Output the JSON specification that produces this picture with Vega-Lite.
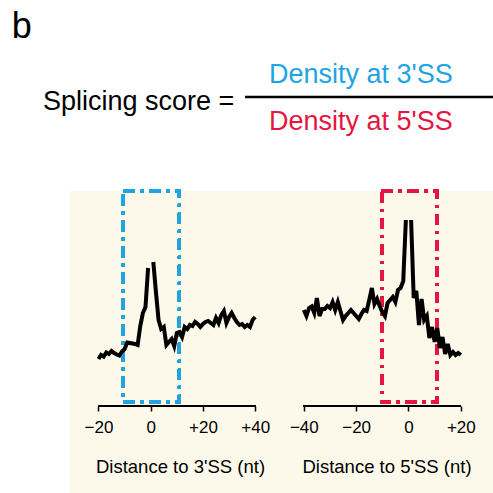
{
  "$schema": "https://vega.github.io/schema/vega-lite/v6.json",
  "padding": 0,
  "background": "white",
  "spacing": 0,
  "bounds": "flush",
  "config": {"view": {"stroke": null}, "font": "Liberation Sans"},
  "datasets": {
    "threeSS": [
      {"position": -20, "density": 1.34, "side": "upstream"},
      {"position": -19, "density": 1.38, "side": "upstream"},
      {"position": -18, "density": 1.365, "side": "upstream"},
      {"position": -17, "density": 1.405, "side": "upstream"},
      {"position": -16, "density": 1.39, "side": "upstream"},
      {"position": -15, "density": 1.42, "side": "upstream"},
      {"position": -14, "density": 1.40, "side": "upstream"},
      {"position": -13, "density": 1.385, "side": "upstream"},
      {"position": -12, "density": 1.375, "side": "upstream"},
      {"position": -11, "density": 1.415, "side": "upstream"},
      {"position": -10, "density": 1.44, "side": "upstream"},
      {"position": -9, "density": 1.505, "side": "upstream"},
      {"position": -8, "density": 1.50, "side": "upstream"},
      {"position": -7, "density": 1.495, "side": "upstream"},
      {"position": -6, "density": 1.49, "side": "upstream"},
      {"position": -5, "density": 1.48, "side": "upstream"},
      {"position": -4, "density": 1.67, "side": "upstream"},
      {"position": -3, "density": 1.80, "side": "upstream"},
      {"position": -2, "density": 1.86, "side": "upstream"},
      {"position": -1, "density": 2.25, "side": "upstream"},
      {"position": 1, "density": 2.31, "side": "downstream"},
      {"position": 2, "density": 2.01, "side": "downstream"},
      {"position": 3, "density": 1.73, "side": "downstream"},
      {"position": 4, "density": 1.64, "side": "downstream"},
      {"position": 5, "density": 1.66, "side": "downstream"},
      {"position": 6, "density": 1.48, "side": "downstream"},
      {"position": 7, "density": 1.51, "side": "downstream"},
      {"position": 8, "density": 1.54, "side": "downstream"},
      {"position": 9, "density": 1.47, "side": "downstream"},
      {"position": 10, "density": 1.60, "side": "downstream"},
      {"position": 11, "density": 1.61, "side": "downstream"},
      {"position": 12, "density": 1.56, "side": "downstream"},
      {"position": 13, "density": 1.66, "side": "downstream"},
      {"position": 14, "density": 1.64, "side": "downstream"},
      {"position": 15, "density": 1.68, "side": "downstream"},
      {"position": 16, "density": 1.67, "side": "downstream"},
      {"position": 17, "density": 1.71, "side": "downstream"},
      {"position": 18, "density": 1.69, "side": "downstream"},
      {"position": 19, "density": 1.66, "side": "downstream"},
      {"position": 20, "density": 1.69, "side": "downstream"},
      {"position": 21, "density": 1.71, "side": "downstream"},
      {"position": 22, "density": 1.72, "side": "downstream"},
      {"position": 23, "density": 1.70, "side": "downstream"},
      {"position": 24, "density": 1.68, "side": "downstream"},
      {"position": 25, "density": 1.75, "side": "downstream"},
      {"position": 26, "density": 1.70, "side": "downstream"},
      {"position": 27, "density": 1.78, "side": "downstream"},
      {"position": 28, "density": 1.82, "side": "downstream"},
      {"position": 29, "density": 1.70, "side": "downstream"},
      {"position": 30, "density": 1.76, "side": "downstream"},
      {"position": 31, "density": 1.80, "side": "downstream"},
      {"position": 32, "density": 1.75, "side": "downstream"},
      {"position": 33, "density": 1.71, "side": "downstream"},
      {"position": 34, "density": 1.68, "side": "downstream"},
      {"position": 35, "density": 1.69, "side": "downstream"},
      {"position": 36, "density": 1.66, "side": "downstream"},
      {"position": 37, "density": 1.68, "side": "downstream"},
      {"position": 38, "density": 1.66, "side": "downstream"},
      {"position": 39, "density": 1.73, "side": "downstream"},
      {"position": 40, "density": 1.76, "side": "downstream"}
    ],
    "fiveSS": [
      {"position": -40, "density": 1.83, "side": "upstream"},
      {"position": -39, "density": 1.77, "side": "upstream"},
      {"position": -38, "density": 1.85, "side": "upstream"},
      {"position": -37, "density": 1.865, "side": "upstream"},
      {"position": -36, "density": 1.80, "side": "upstream"},
      {"position": -35, "density": 1.95, "side": "upstream"},
      {"position": -34, "density": 1.77, "side": "upstream"},
      {"position": -33, "density": 1.84, "side": "upstream"},
      {"position": -32, "density": 1.84, "side": "upstream"},
      {"position": -31, "density": 1.87, "side": "upstream"},
      {"position": -30, "density": 1.85, "side": "upstream"},
      {"position": -29, "density": 1.91, "side": "upstream"},
      {"position": -28, "density": 1.83, "side": "upstream"},
      {"position": -27, "density": 1.91, "side": "upstream"},
      {"position": -26, "density": 1.82, "side": "upstream"},
      {"position": -25, "density": 1.73, "side": "upstream"},
      {"position": -24, "density": 1.77, "side": "upstream"},
      {"position": -23, "density": 1.80, "side": "upstream"},
      {"position": -22, "density": 1.83, "side": "upstream"},
      {"position": -21, "density": 1.80, "side": "upstream"},
      {"position": -20, "density": 1.77, "side": "upstream"},
      {"position": -19, "density": 1.74, "side": "upstream"},
      {"position": -18, "density": 1.79, "side": "upstream"},
      {"position": -17, "density": 1.83, "side": "upstream"},
      {"position": -16, "density": 1.82, "side": "upstream"},
      {"position": -15, "density": 1.93, "side": "upstream"},
      {"position": -14, "density": 2.05, "side": "upstream"},
      {"position": -13, "density": 1.89, "side": "upstream"},
      {"position": -12, "density": 1.94, "side": "upstream"},
      {"position": -11, "density": 1.87, "side": "upstream"},
      {"position": -10, "density": 1.81, "side": "upstream"},
      {"position": -9, "density": 1.77, "side": "upstream"},
      {"position": -8, "density": 1.90, "side": "upstream"},
      {"position": -7, "density": 1.93, "side": "upstream"},
      {"position": -6, "density": 1.96, "side": "upstream"},
      {"position": -5, "density": 1.91, "side": "upstream"},
      {"position": -4, "density": 2.03, "side": "upstream"},
      {"position": -3, "density": 2.05, "side": "upstream"},
      {"position": -2, "density": 2.12, "side": "upstream"},
      {"position": -1, "density": 2.73, "side": "upstream"},
      {"position": 1, "density": 2.73, "side": "downstream"},
      {"position": 2, "density": 1.95, "side": "downstream"},
      {"position": 3, "density": 2.02, "side": "downstream"},
      {"position": 4, "density": 1.68, "side": "downstream"},
      {"position": 5, "density": 1.94, "side": "downstream"},
      {"position": 6, "density": 1.73, "side": "downstream"},
      {"position": 7, "density": 1.77, "side": "downstream"},
      {"position": 8, "density": 1.55, "side": "downstream"},
      {"position": 9, "density": 1.66, "side": "downstream"},
      {"position": 10, "density": 1.51, "side": "downstream"},
      {"position": 11, "density": 1.65, "side": "downstream"},
      {"position": 12, "density": 1.45, "side": "downstream"},
      {"position": 13, "density": 1.56, "side": "downstream"},
      {"position": 14, "density": 1.39, "side": "downstream"},
      {"position": 15, "density": 1.49, "side": "downstream"},
      {"position": 16, "density": 1.38, "side": "downstream"},
      {"position": 17, "density": 1.41, "side": "downstream"},
      {"position": 18, "density": 1.38, "side": "downstream"},
      {"position": 19, "density": 1.40, "side": "downstream"},
      {"position": 20, "density": 1.38, "side": "downstream"}
    ]
  },
  "vconcat": [
    {
      "width": 493,
      "height": 191,
      "data": {"values": [{}]},
      "layer": [
        {
          "mark": {"type": "text", "fontSize": 36, "align": "left", "baseline": "alphabetic", "color": "black"},
          "encoding": {
            "text": {"value": "b"},
            "x": {"datum": 0.024, "type": "quantitative", "scale": {"domain": [0, 1], "nice": false, "zero": false}, "axis": null},
            "y": {"datum": 0.801, "type": "quantitative", "scale": {"domain": [0, 1], "nice": false, "zero": false}, "axis": null}
          }
        },
        {
          "mark": {"type": "text", "fontSize": 27, "align": "left", "baseline": "alphabetic", "color": "black"},
          "encoding": {
            "text": {"value": "Splicing score ="},
            "x": {"datum": 0.087, "type": "quantitative", "axis": null},
            "y": {"datum": 0.424, "type": "quantitative", "axis": null}
          }
        },
        {
          "mark": {"type": "text", "fontSize": 27, "align": "center", "baseline": "alphabetic", "color": "#1ea3e3"},
          "encoding": {
            "text": {"value": "Density at 3'SS"},
            "x": {"datum": 0.732, "type": "quantitative", "axis": null},
            "y": {"datum": 0.565, "type": "quantitative", "axis": null}
          }
        },
        {
          "mark": {"type": "text", "fontSize": 27, "align": "center", "baseline": "alphabetic", "color": "#e3173f"},
          "encoding": {
            "text": {"value": "Density at 5'SS"},
            "x": {"datum": 0.732, "type": "quantitative", "axis": null},
            "y": {"datum": 0.319, "type": "quantitative", "axis": null}
          }
        },
        {
          "mark": {"type": "rule", "strokeWidth": 2.5, "color": "black"},
          "encoding": {
            "x": {"datum": 0.497, "type": "quantitative", "axis": null},
            "x2": {"datum": 1.0},
            "y": {"datum": 0.492, "type": "quantitative", "axis": null}
          }
        }
      ]
    },
    {
      "spacing": 0,
      "bounds": "flush",
      "hconcat": [
        {
          "width": 70,
          "height": 302,
          "data": {"values": [{}]},
          "mark": {"type": "point", "opacity": 0},
          "encoding": {}
        },
        {
          "width": 210,
          "height": 302,
          "view": {"fill": "#fcf9ea", "stroke": null},
          "data": {"name": "threeSS"},
          "layer": [
            {
              "mark": {"type": "rect", "filled": false, "color": "#22a3e0", "strokeWidth": 3, "strokeDash": [11, 6, 3, 6], "clip": false},
              "encoding": {
                "x": {"datum": -10.5, "type": "quantitative", "axis": {"title": "Distance to 3'SS (nt)"}},
                "x2": {"datum": 11},
                "y": {"datum": 0.91, "type": "quantitative", "axis": null},
                "y2": {"datum": 3.02}
              }
            },
            {
              "mark": {"type": "line", "color": "black", "strokeWidth": 4},
              "encoding": {
                "x": {
                  "field": "position", "type": "quantitative",
                  "scale": {"domain": [-30.9, 49.5], "nice": false, "zero": false},
                  "axis": {
                    "values": [-20, 0, 20, 40], "domain": false, "grid": false, "offset": -87,
                    "tickSize": 5, "tickWidth": 1.5, "tickColor": "black",
                    "labelFontSize": 17, "labelColor": "black", "labelPadding": 8, "labelFlush": false, "labelOverlap": false,
                    "labelExpr": "datum.value > 0 ? '+' + datum.value : (datum.value < 0 ? '\u2212' + (-datum.value) : '0')",
                    "title": "Distance to 3'SS (nt)", "titleFontSize": 18.5, "titleFontWeight": "normal", "titleColor": "black", "titlePadding": 22, "titleX": 110
                  }
                },
                "y": {"field": "density", "type": "quantitative", "scale": {"domain": [0, 3.02], "nice": false, "zero": false}, "axis": null},
                "detail": {"field": "side", "type": "nominal"}
              }
            },
            {
              "mark": {"type": "rule", "strokeWidth": 1.5, "color": "black"},
              "encoding": {
                "x": {"datum": -20, "type": "quantitative", "axis": {"title": "Distance to 3'SS (nt)"}},
                "x2": {"datum": 40},
                "y": {"datum": 0.87, "type": "quantitative", "axis": null}
              }
            }
          ]
        },
        {
          "width": 213,
          "height": 302,
          "view": {"fill": "#fcf9ea", "stroke": null},
          "data": {"name": "fiveSS"},
          "layer": [
            {
              "mark": {"type": "rect", "filled": false, "color": "#e3173f", "strokeWidth": 3, "strokeDash": [11, 6, 3, 6], "clip": false},
              "encoding": {
                "x": {"datum": -10.2, "type": "quantitative", "axis": {"title": "Distance to 5'SS (nt)"}},
                "x2": {"datum": 10.8},
                "y": {"datum": 0.91, "type": "quantitative", "axis": null},
                "y2": {"datum": 3.02}
              }
            },
            {
              "mark": {"type": "line", "color": "black", "strokeWidth": 4},
              "encoding": {
                "x": {
                  "field": "position", "type": "quantitative",
                  "scale": {"domain": [-49.1, 32.3], "nice": false, "zero": false},
                  "axis": {
                    "values": [-40, -20, 0, 20], "domain": false, "grid": false, "offset": -87,
                    "tickSize": 5, "tickWidth": 1.5, "tickColor": "black",
                    "labelFontSize": 17, "labelColor": "black", "labelPadding": 8, "labelFlush": false, "labelOverlap": false,
                    "labelExpr": "datum.value > 0 ? '+' + datum.value : (datum.value < 0 ? '\u2212' + (-datum.value) : '0')",
                    "title": "Distance to 5'SS (nt)", "titleFontSize": 18.5, "titleFontWeight": "normal", "titleColor": "black", "titlePadding": 22
                  }
                },
                "y": {"field": "density", "type": "quantitative", "scale": {"domain": [0, 3.02], "nice": false, "zero": false}, "axis": null},
                "detail": {"field": "side", "type": "nominal"}
              }
            },
            {
              "mark": {"type": "rule", "strokeWidth": 1.5, "color": "black"},
              "encoding": {
                "x": {"datum": -40, "type": "quantitative", "axis": {"title": "Distance to 5'SS (nt)"}},
                "x2": {"datum": 20},
                "y": {"datum": 0.87, "type": "quantitative", "axis": null}
              }
            }
          ]
        }
      ]
    }
  ]
}
